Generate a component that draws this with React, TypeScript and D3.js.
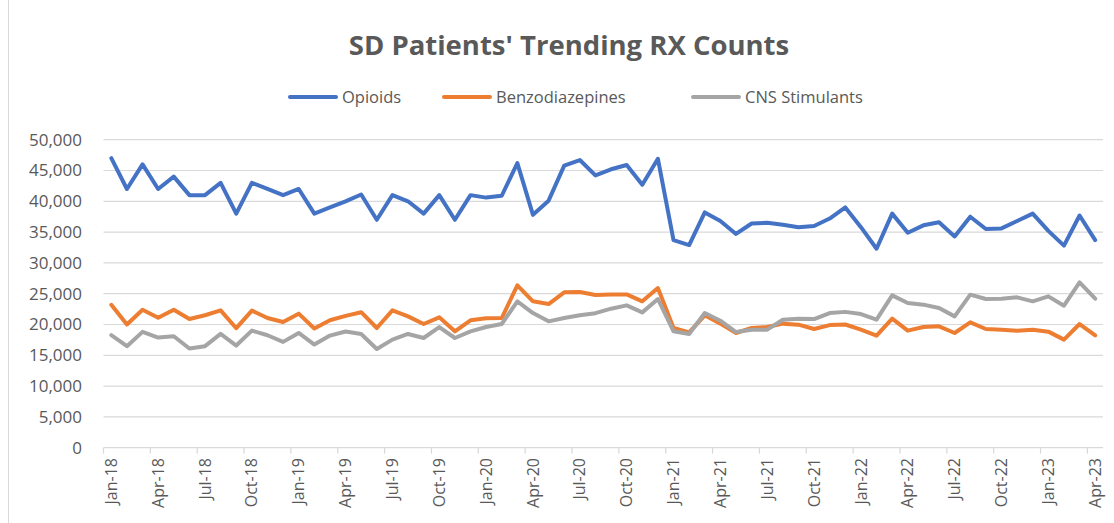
import React from "react";
import * as d3 from "d3";

const months = [
  "Jan-18","Feb-18","Mar-18","Apr-18","May-18","Jun-18","Jul-18","Aug-18","Sep-18","Oct-18","Nov-18","Dec-18",
  "Jan-19","Feb-19","Mar-19","Apr-19","May-19","Jun-19","Jul-19","Aug-19","Sep-19","Oct-19","Nov-19","Dec-19",
  "Jan-20","Feb-20","Mar-20","Apr-20","May-20","Jun-20","Jul-20","Aug-20","Sep-20","Oct-20","Nov-20","Dec-20",
  "Jan-21","Feb-21","Mar-21","Apr-21","May-21","Jun-21","Jul-21","Aug-21","Sep-21","Oct-21","Nov-21","Dec-21",
  "Jan-22","Feb-22","Mar-22","Apr-22","May-22","Jun-22","Jul-22","Aug-22","Sep-22","Oct-22","Nov-22","Dec-22",
  "Jan-23","Feb-23","Mar-23","Apr-23",
];

const tickLabels = [
  "Jan-18","Apr-18","Jul-18","Oct-18","Jan-19","Apr-19","Jul-19","Oct-19","Jan-20","Apr-20","Jul-20","Oct-20",
  "Jan-21","Apr-21","Jul-21","Oct-21","Jan-22","Apr-22","Jul-22","Oct-22","Jan-23","Apr-23",
];

const opioids = [
  47000,42000,46000,42000,44000,41000,41000,43000,38000,43000,
  42000,41000,42000,38000,39000,40000,41100,37000,41000,40000,
  38000,41000,37000,41000,40600,40900,46200,37800,40100,45800,
  46700,44200,45200,45900,42700,46900,33700,32900,38200,36800,
  34700,36400,36500,36200,35800,36000,37200,39000,35800,32300,
  38000,34900,36100,36600,34300,37500,35500,35600,36800,38000,
  35200,32800,37700,33700,
];

const benzodiazepines = [
  23200,20000,22400,21100,22400,20900,21500,22300,19400,22250,
  21060,20400,21760,19340,20690,21400,22000,19430,22300,21320,
  20080,21160,18890,20680,21000,21050,26350,23760,23320,25220,
  25270,24800,24890,24890,23760,25920,19430,18730,21490,20140,
  18620,19430,19590,20140,19970,19270,19900,20000,19160,18190,
  20950,19000,19590,19700,18620,20350,19270,19160,19000,19160,
  18840,17540,20080,18240,
];

const cnsStimulants = [
  18260,16480,18800,17880,18100,16100,16480,18470,16580,19010,
  18260,17180,18630,16750,18200,18870,18460,16030,17540,18460,
  17810,19590,17810,18890,19590,20080,23760,21860,20510,21050,
  21490,21840,22570,23110,21970,24140,18890,18460,21860,20620,
  18780,19160,19160,20780,20950,20890,21860,22050,21700,20780,
  24730,23490,23220,22680,21320,24840,24140,24190,24410,23760,
  24570,23050,26840,24190,
];

const yTicks = [0,5000,10000,15000,20000,25000,30000,35000,40000,45000,50000];

const seriesNames = ["Opioids", "Benzodiazepines", "CNS Stimulants"];
const seriesColors = ["#4472C4", "#ED7D31", "#A5A5A5"];

const W = 1114;
const H = 523;
const PLOT = { left: 103.5, right: 1103, top: 139.7, bottom: 447.7 };
const FONT = "'Open Sans', 'DejaVu Sans', sans-serif";
const TEXT = "#595959";
const GRID = "#d9d9d9";

export default function App() {
  const x = d3.scaleBand<string>().domain(months).range([PLOT.left, PLOT.right]).paddingInner(0).paddingOuter(0);
  const y = d3.scaleLinear().domain([0, 50000]).range([PLOT.bottom, PLOT.top]);
  const bw = x.bandwidth();
  const fmt = d3.format(",");

  const allSeries = [opioids, benzodiazepines, cnsStimulants];
  const line = d3
    .line<number>()
    .x((_, i) => (x(months[i]) as number) + bw / 2)
    .y((d) => y(d));

  const legendStarts = [290, 444, 693];

  return (
    <svg
      width={W}
      height={H}
      style={{ position: "absolute", left: 0, top: 0, background: "#fff" }}
      fontFamily={FONT}
    >
      <rect x={0} y={0} width={W} height={H} fill="#fff" />
      <line x1={8.5} x2={8.5} y1={0} y2={H} stroke={GRID} strokeWidth={1} />

      <text x={569} y={55} textAnchor="middle" fontSize={27.5} fontWeight={700} fill={TEXT}>
        SD Patients' Trending RX Counts
      </text>

      {seriesNames.map((name, i) => (
        <g key={name} transform={`translate(${legendStarts[i]},97)`}>
          <line x1={0} x2={46} y1={0} y2={0} stroke={seriesColors[i]} strokeWidth={4} strokeLinecap="round" />
          <text x={52} y={0} dy="0.35em" fontSize={16.5} fill={TEXT}>
            {name}
          </text>
        </g>
      ))}

      {yTicks.map((t) => (
        <g key={t}>
          <line x1={PLOT.left} x2={PLOT.right} y1={y(t)} y2={y(t)} stroke={GRID} strokeWidth={1.2} />
          <text x={82} y={y(t)} dy="0.35em" textAnchor="end" fontSize={17} fill={TEXT}>
            {fmt(t)}
          </text>
        </g>
      ))}

      {months.map((m, i) =>
        i % 3 === 0 ? (
          <line
            key={"tk" + m}
            x1={x(m) as number}
            x2={x(m) as number}
            y1={PLOT.bottom}
            y2={PLOT.bottom + 6}
            stroke={GRID}
            strokeWidth={1.2}
          />
        ) : null
      )}

      {tickLabels.map((m) => (
        <text
          key={"lb" + m}
          transform={`translate(${(x(m) as number) + bw / 2},458) rotate(-90)`}
          dy="0.35em"
          textAnchor="end"
          fontSize={16}
          fill={TEXT}
        >
          {m}
        </text>
      ))}

      {allSeries.map((s, i) => (
        <path
          key={seriesNames[i]}
          d={line(s) as string}
          fill="none"
          stroke={seriesColors[i]}
          strokeWidth={4}
          strokeLinejoin="round"
          strokeLinecap="round"
        />
      ))}
    </svg>
  );
}
